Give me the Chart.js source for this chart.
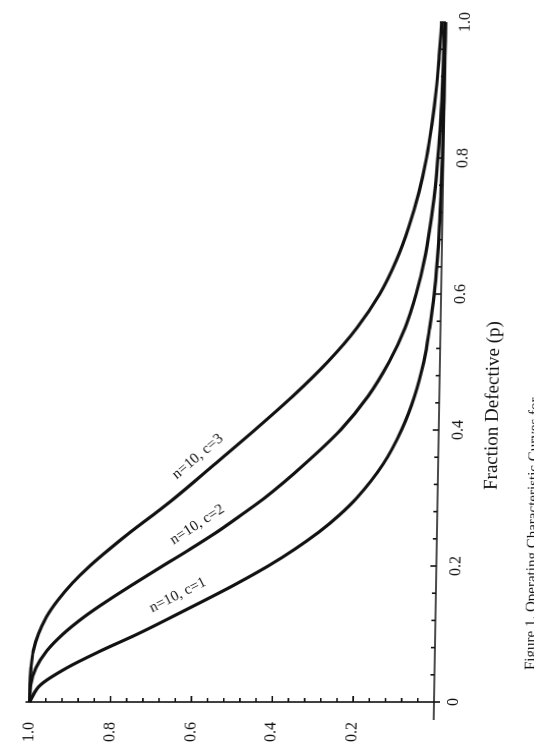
<!DOCTYPE html>
<html>
<head>
<meta charset="utf-8">
<title>Operating Characteristic Curves</title>
<script src="https://cdn.jsdelivr.net/npm/chart.js@4.4.1/dist/chart.umd.min.js"></script>
<style>
  html, body { margin: 0; padding: 0; background: #fff; overflow: hidden; }
  /* the scanned page is a little sheared, and the whole figure is turned on its side */
  #page { position: absolute; left: 0; top: 0; width: 534px; height: 755px;
          transform-origin: 0 702px; transform: skewX(-1deg); }
  #frame { position: absolute; left: 0; top: 0; width: 755px; height: 534px;
           transform-origin: 0 0; transform: translateY(755px) rotate(-90deg); }
  #ocChart { position: absolute; left: 0; top: 0; }
  .txt { position: absolute; font-family: "Liberation Serif", "Times New Roman", serif;
         color: #111; white-space: nowrap; }
  #axisTitle { left: 265px; top: 477px; font-size: 19px; line-height: 19px; }
  #caption { left: 85px; top: 522px; font-size: 15px; line-height: 15px; }
</style>
</head>
<body>
<div id="page">
  <div id="frame">
    <canvas id="ocChart" width="755" height="534"></canvas>
    <div class="txt" id="axisTitle">Fraction Defective (p)</div>
    <div class="txt" id="caption">Figure 1. Operating Characteristic Curves for</div>
  </div>
</div>

<script>
// ---------------- DATA ----------------

const pValues = [0, 0.025, 0.05, 0.075, 0.1, 0.125, 0.15, 0.175, 0.2, 0.225, 0.25, 0.275, 0.3,
                 0.35, 0.4, 0.45, 0.5, 0.55, 0.6, 0.65, 0.7, 0.75, 0.8, 0.85, 0.9, 0.95, 1.0];

const acceptC1 = [1.000, 0.974, 0.910, 0.827, 0.736, 0.652, 0.570, 0.490, 0.416, 0.350, 0.292, 0.242, 0.200,
                  0.136, 0.092, 0.061, 0.040, 0.027, 0.017, 0.011, 0.007, 0.005, 0.003, 0.002, 0.001, 0.001, 0.000];

const acceptC2 = [1.000, 0.998, 0.986, 0.960, 0.920, 0.869, 0.809, 0.744, 0.677, 0.609, 0.544, 0.485, 0.428,
                  0.330, 0.243, 0.176, 0.126, 0.088, 0.062, 0.043, 0.030, 0.020, 0.014, 0.009, 0.006, 0.004, 0.003];

const acceptC3 = [1.000, 1.000, 0.998, 0.993, 0.981, 0.962, 0.934, 0.899, 0.857, 0.809, 0.758, 0.703, 0.650,
                  0.552, 0.455, 0.362, 0.278, 0.207, 0.152, 0.112, 0.082, 0.059, 0.042, 0.030, 0.021, 0.015, 0.010];

const curveNames = ["n=10, c=1", "n=10, c=2", "n=10, c=3"];

const pTicks = [0, 0.2, 0.4, 0.6, 0.8, 1.0];
const acceptTicks = [0.2, 0.4, 0.6, 0.8, 1.0];

// ---------------- HELPERS ----------------

const serif = "'Liberation Serif', 'Times New Roman', serif";
const ink = "#111";

function toPoints(values) {
    return pValues.map((p, i) => ({ x: p, y: values[i] }));
}

function valueAt(values, p) {
    for (let i = 1; i < pValues.length; i++) {
        if (p <= pValues[i]) {
            const t = (p - pValues[i - 1]) / (pValues[i] - pValues[i - 1]);
            return values[i - 1] + t * (values[i] - values[i - 1]);
        }
    }
    return values[values.length - 1];
}

function fmt(v) {
    return Math.abs(v) < 1e-9 ? "0" : v.toFixed(1);
}

// where the curve names sit along their curves
const labelSpots = [
    { ds: 0, p: 0.135, gap: 13 },
    { ds: 1, p: 0.24, gap: 13 },
    { ds: 2, p: 0.342, gap: 13 }
];

// ---------------- PLUGIN: axes, inward ticks, curve names ----------------

const ocDecor = {
    id: "ocDecor",
    afterDatasetsDraw(chart) {
        const { ctx, scales: { x, y } } = chart;
        const x0 = x.getPixelForValue(0);
        const y0 = y.getPixelForValue(0);

        ctx.save();
        ctx.strokeStyle = ink;
        ctx.lineWidth = 1.6;
        ctx.beginPath();
        ctx.moveTo(x0 - 18, y0);
        ctx.lineTo(x.getPixelForValue(1), y0);
        ctx.moveTo(x0, y.getPixelForValue(1) - 4);
        ctx.lineTo(x0, y0 + 6);

        for (let i = 1; i <= 25; i++) {
            const v = i * 0.04;
            const len = i % 5 === 0 ? 6 : 4;
            const px = x.getPixelForValue(v);
            const py = y.getPixelForValue(v);
            ctx.moveTo(px, y0);
            ctx.lineTo(px, y0 - len);
            ctx.moveTo(x0, py);
            ctx.lineTo(x0 + len, py);
        }
        ctx.stroke();

        ctx.fillStyle = ink;
        ctx.font = "15px " + serif;
        ctx.textAlign = "center";
        ctx.textBaseline = "alphabetic";

        labelSpots.forEach(spot => {
            const values = chart.data.datasets[spot.ds].rawValues;
            const ax = x.getPixelForValue(spot.p - 0.02);
            const ay = y.getPixelForValue(valueAt(values, spot.p - 0.02));
            const bx = x.getPixelForValue(spot.p + 0.02);
            const by = y.getPixelForValue(valueAt(values, spot.p + 0.02));
            const cx = x.getPixelForValue(spot.p);
            const cy = y.getPixelForValue(valueAt(values, spot.p));
            const angle = Math.atan2(by - ay, bx - ax);

            ctx.save();
            ctx.translate(cx, cy);
            ctx.rotate(angle);
            ctx.fillText(chart.data.datasets[spot.ds].label, 0, -spot.gap);
            ctx.restore();
        });

        ctx.restore();
    }
};

// ---------------- CHART ----------------

const series = [acceptC1, acceptC2, acceptC3];

new Chart(document.getElementById("ocChart"), {

    type: "line",

    data: {
        datasets: series.map((values, i) => ({
            label: curveNames[i],
            rawValues: values,
            data: toPoints(values),
            borderColor: ink,
            borderWidth: 3.2,
            pointRadius: 0,
            fill: false,
            cubicInterpolationMode: "monotone",
            clip: 10
        }))
    },

    options: {
        responsive: false,
        animation: false,
        devicePixelRatio: 1,
        layout: { padding: { top: 7, right: 22, left: 0, bottom: 0 } },
        plugins: {
            legend: { display: false },
            tooltip: { enabled: false }
        },
        scales: {
            x: {
                type: "linear",
                min: 0,
                max: 1,
                afterBuildTicks: axis => { axis.ticks = pTicks.map(v => ({ value: v })); },
                afterFit: axis => { axis.height = 100; },
                grid: { display: false, drawTicks: false },
                border: { display: false },
                ticks: {
                    color: ink,
                    padding: 10,
                    maxRotation: 0,
                    font: { family: serif, size: 16 },
                    callback: v => fmt(v)
                }
            },
            y: {
                type: "linear",
                min: 0,
                max: 1,
                afterBuildTicks: axis => { axis.ticks = acceptTicks.map(v => ({ value: v })); },
                afterFit: axis => { axis.width = 53; },
                grid: { display: false, drawTicks: false },
                border: { display: false },
                ticks: {
                    color: ink,
                    padding: 20,
                    font: { family: serif, size: 16 },
                    callback: v => fmt(v)
                }
            }
        }
    },

    plugins: [ocDecor]
});
</script>
</body>
</html>
